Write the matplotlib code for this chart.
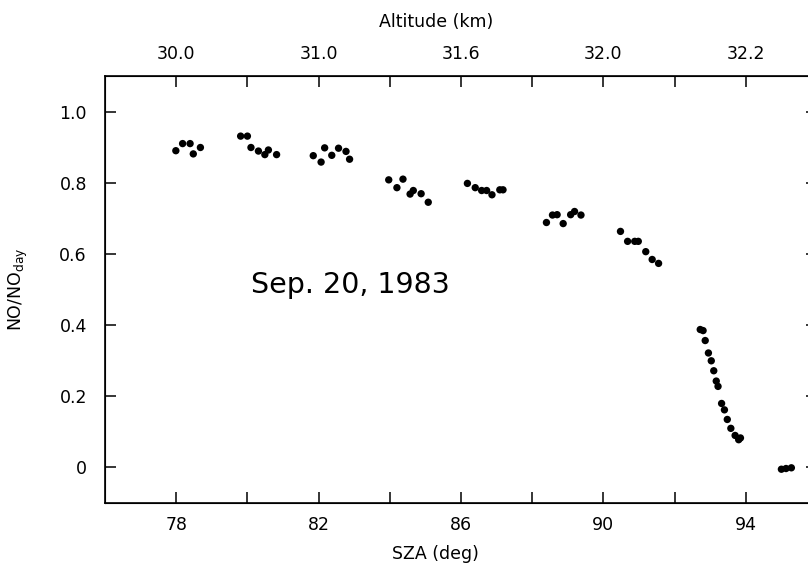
import matplotlib
matplotlib.use("Agg")
import matplotlib.pyplot as plt

plt.rcParams['font.family'] = ['DejaVu Sans']

# Data: solar zenith angle (deg) and NO/NO_day
sza = [77.99, 78.18, 78.39, 78.48, 78.68,
       79.81, 80.00, 80.10, 80.31, 80.49, 80.59, 80.82,
       81.85, 82.07, 82.17, 82.37, 82.56, 82.77, 82.87,
       83.97, 84.20, 84.37, 84.57, 84.66, 84.88, 85.08,
       86.18, 86.40, 86.58, 86.72, 86.87, 87.09, 87.18,
       88.40, 88.57, 88.70, 88.87, 89.08, 89.19, 89.37,
       90.48, 90.68, 90.88, 90.98, 91.19, 91.37, 91.55,
       92.72, 92.80, 92.86, 92.95, 93.03, 93.10, 93.17, 93.22,
       93.32, 93.40, 93.48, 93.58, 93.70, 93.80, 93.85,
       95.00, 95.13, 95.28]
ratio = [0.891, 0.911, 0.911, 0.882, 0.900,
         0.932, 0.932, 0.900, 0.890, 0.880, 0.893, 0.880,
         0.877, 0.859, 0.899, 0.878, 0.898, 0.889, 0.867,
         0.809, 0.787, 0.811, 0.769, 0.779, 0.770, 0.746,
         0.799, 0.787, 0.779, 0.779, 0.767, 0.781, 0.781,
         0.689, 0.710, 0.711, 0.686, 0.711, 0.720, 0.710,
         0.664, 0.636, 0.636, 0.636, 0.607, 0.585, 0.574,
         0.388, 0.385, 0.357, 0.322, 0.300, 0.272, 0.243, 0.228,
         0.180, 0.162, 0.135, 0.110, 0.090, 0.078, 0.083,
         -0.005, -0.003, -0.001]

x_ticks = [78, 80, 82, 84, 86, 88, 90, 92, 94]
x_labels = ['78', '', '82', '', '86', '', '90', '', '94']
top_labels = ['30.0', '', '31.0', '', '31.6', '', '32.0', '', '32.2']
y_ticks = [0, 0.2, 0.4, 0.6, 0.8, 1.0]
y_labels = ['0', '0.2', '0.4', '0.6', '0.8', '1.0']

fig = plt.figure(figsize=(8.08, 5.72), dpi=100)
ax = fig.add_axes([105/808, 69/572, 712/808, 426.6/572])

ax.scatter(sza, ratio, s=28, color='black', edgecolors='none', zorder=3)

ax.set_xlim(76, 96)
ax.set_ylim(-0.1, 1.1)
ax.set_xticks(x_ticks)
ax.set_xticklabels(x_labels)
ax.set_yticks(y_ticks)
ax.set_yticklabels(y_labels)

for sp in ax.spines.values():
    sp.set_linewidth(1.2)

ax.tick_params(axis='x', direction='in', length=8, width=1.1, labelsize=12.5, pad=9)
ax.tick_params(axis='y', direction='in', length=8, width=1.1, labelsize=12.5, pad=13,
               right=True)

ax.set_xlabel('SZA (deg)', fontsize=12.5)
ax.xaxis.set_label_coords(0.4635, -0.098)
ax.set_ylabel('NO/NO$_{\\mathregular{day}}$', fontsize=12.5)
ax.yaxis.set_label_coords(-0.105, 0.5)

ax2 = ax.twiny()
ax2.set_xlim(ax.get_xlim())
ax2.set_xticks(x_ticks)
ax2.set_xticklabels(top_labels)
ax2.tick_params(axis='x', direction='in', length=8, width=1.1, labelsize=12.5, pad=10)
ax2.set_xlabel('Altitude (km)', fontsize=12.5)
ax2.xaxis.set_label_coords(0.465, 1.115)

ax.text(80.1, 0.514, 'Sep. 20, 1983', fontsize=20.5, va='center', ha='left')

fig.savefig('out.png', dpi=100)
